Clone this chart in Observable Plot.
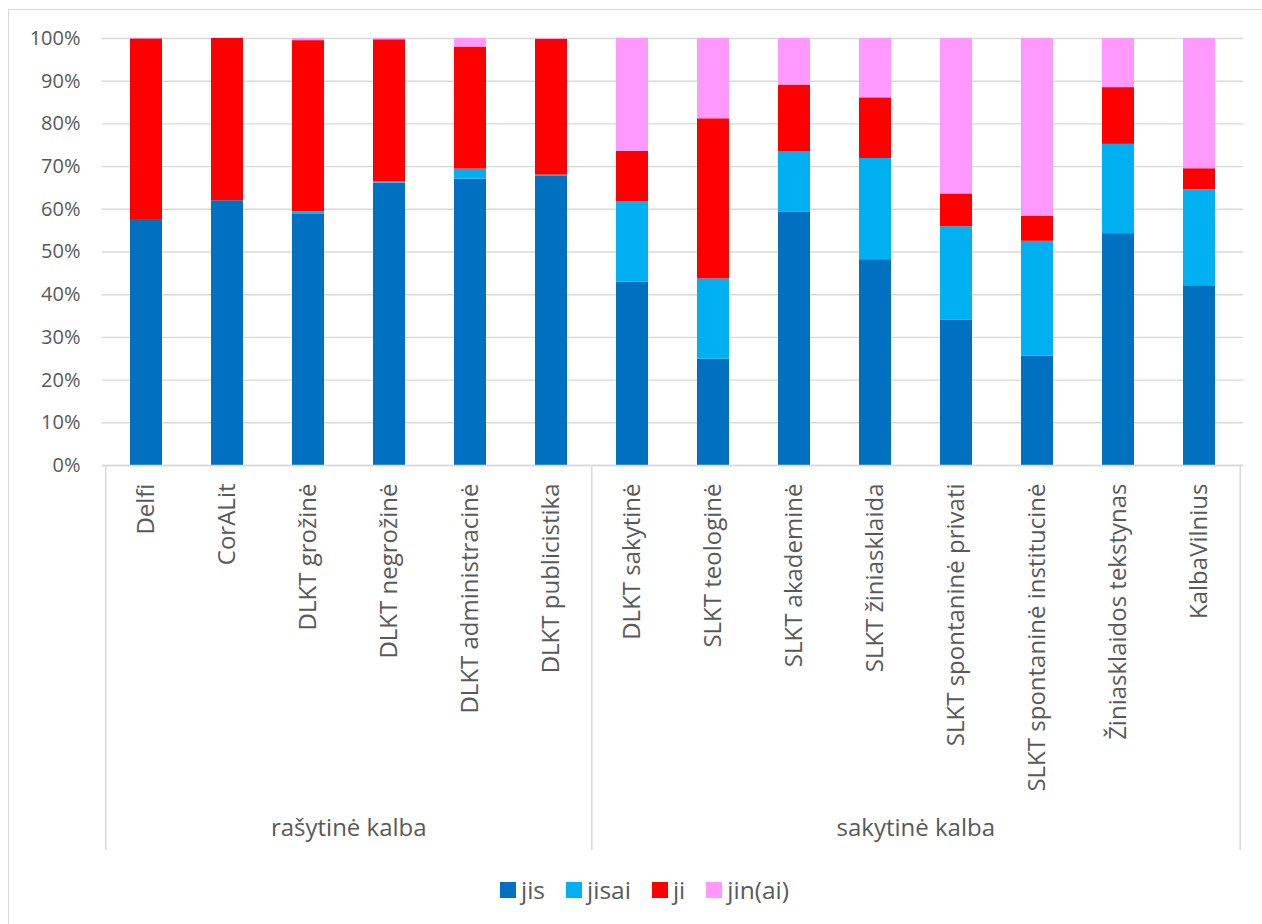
<!DOCTYPE html>
<html>
<head>
<meta charset="utf-8">
<script src="https://cdn.jsdelivr.net/npm/d3@7"></script>
<script src="https://cdn.jsdelivr.net/npm/@observablehq/plot@0.6"></script>
<style>
  html, body { margin: 0; padding: 0; background: #fff; overflow: hidden; }
  #frame { position: absolute; left: 8px; top: 9px; width: 1400px; height: 1000px;
           border: 1.5px solid #d9d9d9; pointer-events: none; }
  #chart { position: absolute; left: 0; top: 0; }
  #legend { position: absolute; left: 500px; top: 873px; display: flex; align-items: center;
            font-family: "Open Sans", sans-serif; font-size: 24.5px; color: #595959; }
  #legend .item { display: flex; align-items: center; margin-right: 21px; }
  #legend .sw { width: 16px; height: 16px; margin-right: 5px; }
</style>
</head>
<body>
<div id="chart"></div>
<div id="legend"></div>
<div id="frame"></div>
<script>
const categories = ["Delfi", "CorALit", "DLKT grožinė", "DLKT negrožinė", "DLKT administracinė", "DLKT publicistika",
  "DLKT sakytinė", "SLKT teologinė", "SLKT akademinė", "SLKT žiniasklaida", "SLKT spontaninė privati",
  "SLKT spontaninė institucinė", "Žiniasklaidos tekstynas", "KalbaVilnius"];
const groups = [
  {name: "rašytinė kalba", start: 0, count: 6},
  {name: "sakytinė kalba", start: 6, count: 8}
];
const seriesNames = ["jis", "jisai", "ji", "jin(ai)"];
const seriesColors = ["#0070C0", "#00B0F0", "#FF0000", "#FF99FF"];
const jis   = [57.6, 62.0, 58.8, 66.1, 67.1, 67.7, 42.9, 24.9, 59.4, 48.2, 34.1, 25.6, 54.3, 42.1];
const jisai = [0.0, 0.0, 0.6, 0.4, 2.3, 0.3, 18.8, 18.8, 14.0, 23.7, 21.8, 26.9, 20.9, 22.5];
const ji    = [42.3, 38.0, 40.1, 33.2, 28.6, 31.8, 11.9, 37.5, 15.7, 14.2, 7.7, 5.9, 13.3, 4.9];
const jin   = [0.1, 0.0, 0.5, 0.3, 2.0, 0.2, 26.4, 18.8, 10.9, 13.9, 36.4, 41.6, 11.5, 30.5];
const yTicks = [0, 0.1, 0.2, 0.3, 0.4, 0.5, 0.6, 0.7, 0.8, 0.9, 1];

const seriesValues = [jis, jisai, ji, jin];
const data = [];
categories.forEach((c, i) => {
  seriesNames.forEach((s, k) => data.push({cat: c, series: s, value: seriesValues[k][i]}));
});

const W = 1262, H = 870;
const mL = 102, mR = 19, mT = 38, mB = 405;
const step = (W - mL - mR) / categories.length;
const textColor = "#595959";
const gridColor = "#d9d9d9";

const groupStarts = groups.map(g => categories[g.start]);
const groupEnd = [categories[categories.length - 1]];
const groupMids = groups.map(g => ({name: g.name, cat: categories[g.start + g.count / 2]}));

const chart = Plot.plot({
  width: W, height: H,
  marginLeft: mL, marginRight: mR, marginTop: mT, marginBottom: mB,
  style: {fontFamily: "'Open Sans', sans-serif", color: textColor, background: "transparent"},
  x: {type: "band", domain: categories, paddingInner: 0.6, paddingOuter: 0.3, label: null},
  y: {domain: [0, 1], label: null},
  color: {domain: seriesNames, range: seriesColors},
  marks: [
    Plot.gridY(yTicks, {stroke: gridColor, strokeOpacity: 1, strokeWidth: 1.4}),
    Plot.barY(data, Plot.stackY({x: "cat", y: "value", fill: "series", offset: "normalize", order: seriesNames})),
    Plot.ruleY([0], {stroke: gridColor, strokeWidth: 1.4}),
    Plot.axisY(yTicks, {tickFormat: d3.format(".0%"), tickSize: 0, tickPadding: 22, fontSize: 20, fill: textColor, label: null}),
    Plot.axisX({tickRotate: -90, tickSize: 0, tickPadding: 18, fontSize: 24, fill: textColor, label: null}),
    Plot.ruleX(groupStarts, {x: d => d, dx: -step / 2, stroke: gridColor, strokeWidth: 1.5,
      insetTop: H - mT - mB, insetBottom: -385}),
    Plot.ruleX(groupEnd, {x: d => d, dx: step / 2, stroke: gridColor, strokeWidth: 1.5,
      insetTop: H - mT - mB, insetBottom: -385}),
    Plot.text(groupMids, {x: "cat", text: "name", dx: -step / 2, frameAnchor: "bottom", dy: 370,
      fontSize: 24, fill: textColor})
  ]
});
document.getElementById("chart").appendChild(chart);

const legend = document.getElementById("legend");
seriesNames.forEach((s, i) => {
  const item = document.createElement("div");
  item.className = "item";
  const sw = document.createElement("div");
  sw.className = "sw";
  sw.style.background = seriesColors[i];
  const t = document.createElement("span");
  t.textContent = s;
  item.appendChild(sw);
  item.appendChild(t);
  legend.appendChild(item);
});
</script>
</body>
</html>
